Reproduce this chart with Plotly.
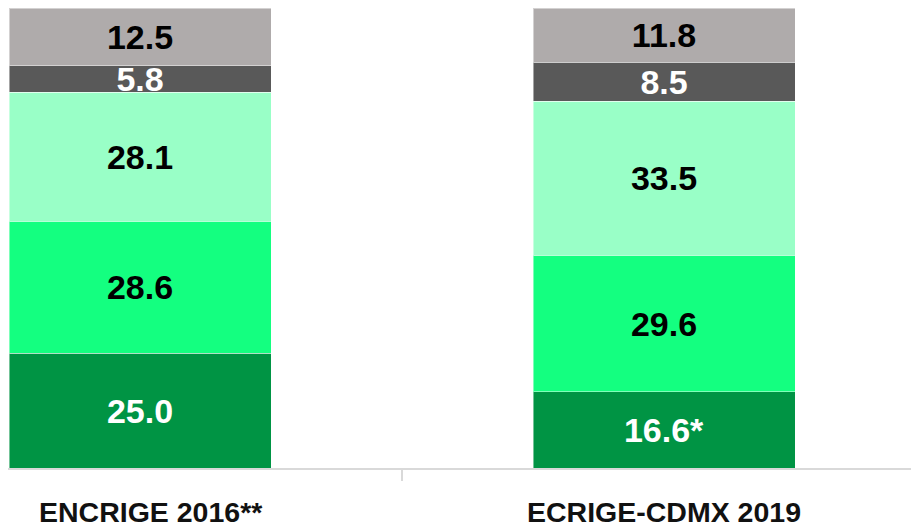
import plotly.graph_objects as go

categories = ["ENCRIGE 2016**", "ECRIGE-CDMX 2019"]
seg1 = [25.0, 16.6]
seg2 = [28.6, 29.6]
seg3 = [28.1, 33.5]
seg4 = [5.8, 8.5]
seg5 = [12.5, 11.8]
seg1_labels = ["25.0", "16.6*"]
label_shift = [11, 0]

series = [
    (seg1, "#009444", "white", seg1_labels),
    (seg2, "#14FF80", "black", None),
    (seg3, "#99FFC7", "black", None),
    (seg4, "#595959", "white", None),
    (seg5, "#AFABAB", "black", None),
]

fig = go.Figure()
for vals, color, tcolor, labels in series:
    fig.add_trace(go.Bar(
        x=categories, y=vals,
        marker=dict(color=color, line=dict(color="rgba(255,255,255,0.45)", width=1)),
        text=labels if labels else [f"{v:.1f}" for v in vals],
        textposition="inside", insidetextanchor="middle", textangle=0,
        textfont=dict(family="Liberation Sans, Arial", size=34, color=tcolor, weight="bold"),
        showlegend=False, hoverinfo="skip",
    ))

for cat, dx in zip(categories, label_shift):
    fig.add_annotation(
        x=cat, xref="x", y=0, yref="paper", yanchor="top", xanchor="center",
        yshift=-26, xshift=dx, showarrow=False, text=cat,
        font=dict(family="Liberation Sans, Arial", size=28.5, color="#111111", weight="bold"),
    )

fig.update_layout(
    barmode="stack", bargap=0.5,
    width=911, height=520,
    margin=dict(l=0, r=0, t=0, b=60),
    paper_bgcolor="white", plot_bgcolor="white",
    uniformtext=dict(minsize=34, mode="show"),
    xaxis=dict(
        range=[-0.2519, 1.4866], showgrid=False,
        showline=True, linecolor="#d9d9d9", linewidth=2,
        ticks="outside", tickson="boundaries", ticklen=11, tickcolor="#d9d9d9", tickwidth=2,
        showticklabels=False,
    ),
    yaxis=dict(range=[0, 100], visible=False, showgrid=False),
)

fig.write_html("out.html")
